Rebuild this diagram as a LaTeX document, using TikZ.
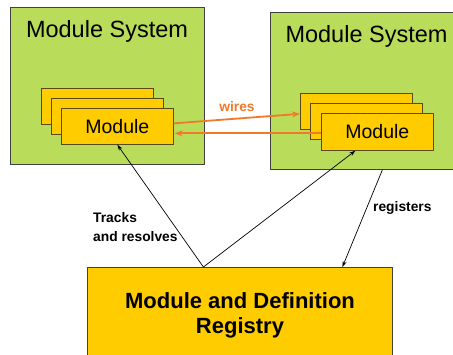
\documentclass[tikz,border=0pt]{standalone}
\usepackage{fontspec}
\setmainfont{Liberation Sans}
\usetikzlibrary{arrows.meta}
\definecolor{sysgreen}{HTML}{B9DC5B}
\definecolor{modyellow}{HTML}{FFCC00}
\definecolor{wireorange}{HTML}{F07A28}
\definecolor{edgegray}{HTML}{404040}
\definecolor{modedge}{HTML}{5A4A1A}
\begin{document}
\begin{tikzpicture}[x=1pt,y=-1pt,
  sysbox/.style={draw=edgegray, fill=sysgreen, line width=0.8pt, rectangle, inner sep=0pt, anchor=north west},
  modbox/.style={draw=modedge, fill=modyellow, line width=0.7pt, rectangle, inner sep=0pt,
    minimum width=112pt, minimum height=36pt, anchor=north west, font=\fontsize{19.5}{20}\selectfont},
  systitle/.style={anchor=base, inner sep=0pt, font=\fontsize{23.5}{24}\selectfont},
  lbl/.style={inner sep=0pt, font=\bfseries\fontsize{13.8}{19.5}\selectfont},
  wire/.style={draw=wireorange, line width=1.8pt, -{Stealth[length=8pt,width=6pt]}},
  link/.style={draw=black, line width=0.7pt, -{Stealth[length=6pt,width=4pt]}}
]
\clip (0,0) rectangle (453,354);
\useasboundingbox (0,0) rectangle (453,354);
\fill[white] (0,0) rectangle (453,354);

% module systems
\node[sysbox, minimum width=194pt, minimum height=157pt] (ls) at (10,7) {};
\node[sysbox, minimum width=190pt, minimum height=157pt] (rs) at (270,12) {};
\node[systitle] (lst) at (107,37) {Module System};
\node[systitle] (rst) at (366.5,42) {Module System};

% left modules
\node[modbox] (lmb) at (41,88) {};
\node[modbox] (lmm) at (51,98) {};
\node[modbox] (lmf) at (61,108) {Module};
% right modules
\node[modbox] (rmb) at (300,93) {};
\node[modbox] (rmm) at (310,103) {};
\node[modbox, minimum height=37pt] (rmf) at (321,113) {Module};

% registry
\node[draw=edgegray, fill=modyellow, line width=0.8pt, rectangle, inner sep=0pt,
  minimum width=305pt, minimum height=100pt, anchor=north west] (reg) at (87,267) {};
\node[anchor=base, align=center, inner sep=0pt, font=\bfseries\fontsize{22}{25}\selectfont] (regt) at (240,333)
  {Module and Definition\\Registry};

% wires
\draw[wire] ([yshift=3pt]lmf.east) -- ([yshift=-2.5pt]rmb.west);
\draw[wire] ([yshift=-1.5pt]rmf.west) -- ([yshift=-7pt,xshift=1pt]lmf.east);
\node[lbl, text=wireorange, anchor=base] (wl) at (237,111) {wires};

% links
\coordinate (hub) at ([xshift=-36.5pt]reg.north);
\draw[link] (hub) -- (lmf.south);
\draw[link] (hub) -- ([xshift=-22pt]rmf.south);
\draw[link] ([xshift=17pt]rs.south) -- ([xshift=102.5pt]reg.north);
\node[lbl, anchor=base west, align=left] (tl) at (93,241.5) {Tracks\\and resolves};
\node[lbl, anchor=base west] (rl) at (373,211) {registers};
\end{tikzpicture}
\end{document}
